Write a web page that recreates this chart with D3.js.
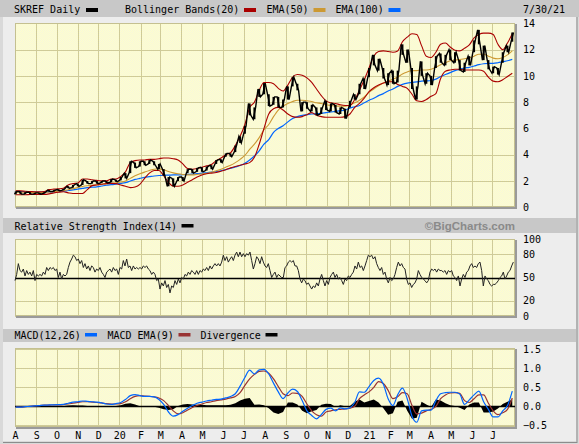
<!DOCTYPE html>
<html><head><meta charset="utf-8">
<script src="https://cdn.jsdelivr.net/npm/d3@7/dist/d3.min.js"></script>
<style>
html,body{margin:0;padding:0;background:#d9d9d9;}
svg{display:block;}
text{font-family:"DejaVu Sans Mono",monospace;font-size:10px;fill:#000;}
</style></head><body>
<svg id="c" width="579" height="444"></svg>
<script>
// ---------- DATA ----------
const symbol = "SKREF Daily";
const endLabel = "7/30/21";
const firstWeek = [2019, 7, 2];   // weekly samples, Fridays
const weekStepDays = 7;
const priceHigh = [1.2,1.2,1.15,1.15,1.1,1.1,1.15,1.3,1.3,1.35,
  1.4,1.6,1.7,1.8,2.1,2.0,2.0,2.0,2.0,2.0,
  2.15,2.1,2.3,2.6,3.5,3.4,3.5,3.5,3.6,3.5,
  3.3,2.9,2.3,2.2,2.3,2.3,2.9,2.9,3.0,3.05,
  3.1,3.2,3.6,3.65,4.1,4.1,4.7,5.4,6.2,7.9,
  7.6,9.0,9.45,8.6,8.4,8.4,8.2,9.2,9.9,9.4,
  8.0,8.0,7.8,7.6,7.6,8.1,7.9,7.8,7.6,7.5,
  8.1,8.6,9.4,9.8,10.6,11.6,11.3,10.6,10.2,10.4,
  10.4,12.4,12.0,10.6,9.2,11.1,10.2,10.0,11.5,11.7,
  11.6,12.0,11.8,11.2,11.0,11.5,12.7,13.5,12.3,11.2,
  10.7,10.6,11.8,12.3,13.3];
const priceLow = [1.0,1.0,1.0,1.0,1.0,1.0,1.05,1.2,1.2,1.25,
  1.3,1.45,1.5,1.6,1.7,1.8,1.8,1.8,1.85,1.85,
  1.9,1.95,2.05,2.2,2.6,3.0,3.1,3.2,3.3,3.2,
  2.9,2.4,1.6,1.6,2.0,2.0,2.6,2.6,2.7,2.7,
  2.8,2.9,3.3,3.4,3.85,3.85,4.2,4.9,5.6,7.0,
  6.7,8.4,8.6,7.7,7.8,7.6,7.6,8.2,9.2,8.9,
  7.3,7.5,7.3,7.0,7.1,7.4,7.3,7.2,7.1,6.75,
  7.6,8.2,8.6,9.0,9.9,10.8,10.4,9.8,9.3,9.4,
  9.5,11.6,11.0,9.0,8.2,10.0,9.4,9.3,10.6,11.0,
  10.8,11.2,11.0,10.4,10.3,10.8,11.8,12.4,11.2,10.5,
  10.2,10.1,11.0,11.8,12.6];
const bbUpper = [1.25,1.25,1.22,1.2,1.18,1.18,1.2,1.35,1.38,1.4,
  1.45,1.7,1.8,1.85,2.15,2.15,2.1,2.05,2.02,2.02,
  2.15,2.15,2.35,2.7,3.4,3.55,3.6,3.6,3.65,3.65,
  3.7,3.75,3.75,3.7,3.6,3.3,2.95,2.9,2.95,3.05,
  3.15,3.25,3.55,3.75,4.0,4.15,4.7,5.4,6.3,7.6,
  8.0,8.9,9.5,9.5,9.4,9.05,8.85,9.3,9.9,10.1,
  10.05,9.85,9.5,9.0,8.5,8.1,7.95,7.9,7.8,7.75,
  7.75,8.2,8.9,9.7,10.6,11.5,11.85,11.9,11.85,11.8,
  11.9,12.6,12.95,13.2,13.15,12.3,11.5,11.4,11.8,12.4,
  12.5,12.2,11.95,11.9,12.1,12.35,12.9,13.15,13.25,13.25,
  13.15,12.4,12.0,12.5,13.2];
const bbLower = [0.95,0.95,0.95,0.97,0.98,0.98,0.98,1.02,1.1,1.15,
  1.18,1.1,1.05,1.05,1.05,1.35,1.65,1.7,1.75,1.8,
  1.82,1.8,1.7,1.6,1.5,1.55,1.75,2.2,2.6,2.8,
  2.8,2.4,1.9,1.6,1.6,1.7,1.9,2.1,2.3,2.45,
  2.55,2.6,2.65,2.75,2.85,3.0,3.1,3.2,3.3,3.4,
  3.8,4.8,6.0,7.1,7.5,7.6,7.4,7.1,6.9,6.85,
  6.9,7.05,7.2,7.0,6.9,6.85,6.85,6.85,6.85,6.9,
  7.1,7.6,7.9,8.3,8.8,9.1,9.3,9.45,9.55,9.55,
  9.35,9.2,9.05,8.6,8.1,8.05,8.2,8.45,8.65,9.8,
  10.35,10.45,10.5,10.5,10.45,10.45,10.45,10.45,10.35,9.9,
  9.6,9.55,9.7,9.95,10.2];
const ema50 = [1.15,1.15,1.14,1.13,1.12,1.12,1.13,1.16,1.2,1.22,
  1.26,1.34,1.42,1.5,1.58,1.64,1.68,1.72,1.76,1.8,
  1.83,1.86,1.92,2.0,2.2,2.4,2.55,2.68,2.8,2.9,
  2.92,2.85,2.72,2.62,2.55,2.5,2.47,2.47,2.5,2.53,
  2.58,2.66,2.78,2.9,3.05,3.2,3.4,3.65,3.95,4.4,
  4.8,5.3,5.9,6.3,6.9,7.4,7.7,7.9,8.05,8.15,
  8.15,8.1,8.05,7.95,7.9,7.8,7.75,7.7,7.7,7.7,
  7.8,7.95,8.15,8.4,8.75,9.0,9.25,9.45,9.6,9.75,
  9.9,10.15,10.3,10.4,10.4,10.45,10.45,10.5,10.65,10.85,
  11.0,11.15,11.2,11.25,11.3,11.38,11.5,11.65,11.65,11.5,
  11.35,11.3,11.4,11.6,11.9];
const ema100 = [1.2,1.2,1.18,1.17,1.16,1.16,1.17,1.18,1.19,1.2,
  1.22,1.28,1.33,1.38,1.44,1.5,1.53,1.56,1.62,1.68,
  1.72,1.76,1.82,1.88,2.0,2.12,2.2,2.28,2.33,2.38,
  2.42,2.44,2.45,2.46,2.46,2.48,2.5,2.52,2.56,2.6,
  2.63,2.67,2.72,2.78,2.87,2.97,3.07,3.18,3.35,3.6,
  3.9,4.3,4.8,5.15,5.7,6.0,6.2,6.5,6.75,6.9,
  7.0,7.05,7.1,7.12,7.15,7.2,7.25,7.3,7.35,7.4,
  7.55,7.65,7.75,7.95,8.15,8.3,8.5,8.65,8.85,9.0,
  9.2,9.35,9.45,9.5,9.55,9.6,9.62,9.65,9.75,9.95,
  10.1,10.25,10.4,10.5,10.6,10.65,10.75,10.85,10.92,10.95,
  10.95,11.0,11.08,11.15,11.25];

const rsiFirstDay = [2019, 7, 1];
const rsiStepDays = 2.4433;
const rsi = [46,54,68,59,57,61,52,59,54,57,52,59,46,54,52,54,52,57,54,63,
  59,63,61,63,59,61,50,57,48,54,52,54,63,70,74,79,77,72,74,68,
  72,63,68,61,65,59,65,63,57,61,59,63,57,54,50,57,59,61,57,63,
  59,61,54,63,61,72,65,74,63,65,59,65,61,63,61,63,61,65,63,65,
  61,59,54,57,54,46,48,35,43,39,46,37,41,30,39,37,46,41,48,43,
  50,48,54,52,57,54,59,57,54,59,54,59,57,61,59,63,59,65,61,65,
  68,65,68,65,70,79,72,77,70,74,77,72,79,83,77,83,77,81,77,81,
  79,83,72,61,68,77,74,68,77,70,
  65,63,68,59,50,54,57,50,54,52,50,50,63,65,70,72,70,72,65,65,
  59,48,43,48,46,41,43,39,35,39,37,43,39,48,54,46,39,46,41,50,
  54,57,50,54,48,50,46,41,48,46,52,50,54,57,65,61,70,63,65,59,
  65,72,79,77,79,74,77,68,63,59,63,54,57,48,43,50,46,48,54,63,
  70,65,68,63,61,48,41,43,37,41,43,48,59,54,50,48,46,43,46,57,
  61,59,61,57,61,59,59,57,59,54,59,57,59,52,50,46,52,39,48,54,
  50,57,59,65,68,63,65,63,68,70,59,39,52,48,46,41,39,41,41,43,
  46,50,52,57,48,52,57,59,65,70];

const macd = [-0.02,-0.02,-0.01,0,0.01,0.02,0.03,0.035,0.04,0.045,
  0.05,0.08,0.11,0.12,0.14,0.13,0.12,0.11,0.09,0.06,
  0.05,0.07,0.1,0.18,0.28,0.31,0.28,0.26,0.26,0.25,
  0.18,0.05,-0.15,-0.26,-0.22,-0.13,-0.05,0.02,0.08,0.11,
  0.14,0.16,0.18,0.19,0.22,0.26,0.33,0.53,0.76,0.95,
  0.85,0.96,0.97,0.85,0.61,0.38,0.2,0.35,0.45,0.39,
  0.15,-0.12,-0.24,-0.33,-0.22,-0.08,-0.05,-0.12,-0.04,-0.07,
  -0.04,0.1,0.38,0.37,0.52,0.68,0.74,0.58,0.2,0.02,
  0.3,0.48,0.2,-0.26,-0.42,-0.12,-0.1,-0.1,0.15,0.33,
  0.36,0.37,0.37,0.32,0.05,0.17,0.3,0.4,0.12,-0.08,
  -0.28,-0.28,-0.12,0.02,0.4];
const macdSignal = [-0.02,-0.02,-0.01,0,0.01,0.02,0.03,0.03,0.04,0.04,
  0.045,0.06,0.08,0.1,0.12,0.12,0.11,0.1,0.09,0.07,
  0.06,0.06,0.07,0.12,0.2,0.26,0.28,0.27,0.26,0.25,
  0.22,0.15,0.02,-0.12,-0.2,-0.17,-0.1,-0.03,0.02,0.06,
  0.1,0.12,0.15,0.17,0.19,0.22,0.26,0.36,0.55,0.72,
  0.84,0.92,0.93,0.87,0.72,0.52,0.33,0.28,0.35,0.34,
  0.26,0.06,-0.12,-0.22,-0.26,-0.15,-0.12,-0.09,-0.08,-0.07,
  -0.05,0.0,0.2,0.3,0.38,0.5,0.65,0.6,0.42,0.2,
  0.25,0.36,0.33,0.02,-0.2,-0.18,-0.12,-0.08,0.0,0.2,
  0.3,0.35,0.36,0.34,0.15,0.1,0.2,0.3,0.3,0.08,
  -0.12,-0.22,-0.17,-0.08,0.22];
const divergence = [0,0,0,0,0,0,0,0.005,0,0.005,
  0.01,0.02,0.03,0.02,0.02,0.01,0.01,0,0,-0.01,
  -0.01,0.01,0.03,0.07,0.08,0.05,0,-0.01,0,-0.01,
  -0.04,-0.08,-0.1,-0.08,0.01,0.05,0.06,0.05,0.04,0.04,
  0.03,0.03,0.03,0.03,0.03,0.04,0.08,0.15,0.2,0.22,
  0.04,0.05,0.03,-0.05,-0.16,-0.2,-0.15,0.1,0.1,0.05,
  -0.12,-0.18,-0.13,-0.1,0.04,0.07,0.06,-0.02,0.03,0,
  0.01,0.12,0.18,0.1,0.14,0.18,0.1,-0.05,-0.22,-0.18,
  0.12,0.15,-0.12,-0.33,-0.3,0.12,0.05,-0.02,0.18,0.15,
  0.08,0.03,0.01,-0.04,-0.1,0.05,0.1,0.1,-0.16,-0.16,
  -0.14,-0.06,0.06,0.12,0.18];

const monthLabels = ["A","S","O","N","D","20","F","M","A","M","J","J",
                     "A","S","O","N","D","21","F","M","A","M","J","J"];
const priceTicks = [0,2,4,6,8,10,12,14];
const rsiTicks = [0,20,50,80,100];
const macdTicks = [-0.5,0.0,0.5,1.0,1.5];

// ---------- DRAWING ----------
const svg = d3.select("#c");
const C = {bg:"#d9d9d9", panel:"#ededed", head:"#c8c8c8", grid:"#cfcb98",
  red:"#aa0000", gold:"#cc9933", blue:"#0066ff", brown:"#993333"};

const utc = a => new Date(Date.UTC(a[0], a[1], a[2]));
const x = d3.scaleUtc()
  .domain([new Date(Date.UTC(2019,7,1)), new Date(Date.UTC(2021,7,3))])
  .range([15, 515]);
const weeks = priceHigh.map((_, i) => d3.utcDay.offset(utc(firstWeek), weekStepDays * i));
const rsiDates = rsi.map((_, k) => new Date(utc(rsiFirstDay).getTime() + k * rsiStepDays * 864e5));
const months = d3.utcMonth.range(new Date(Date.UTC(2019,7,1)), new Date(Date.UTC(2021,7,2)));

// background
svg.append("rect").attr("width",579).attr("height",444).attr("fill",C.bg);
svg.append("rect").attr("x",3).attr("y",17).attr("width",573).attr("height",424).attr("fill",C.panel);
svg.append("line").attr("x1",577).attr("x2",577).attr("y1",17).attr("y2",443).attr("stroke","#8c8c8c");
svg.append("line").attr("x1",3).attr("x2",577).attr("y1",442.5).attr("y2",442.5).attr("stroke","#8c8c8c");
svg.append("rect").attr("x",0).attr("y",0).attr("width",579).attr("height",17).attr("fill",C.head);
svg.append("rect").attr("x",3).attr("y",218).attr("width",573).attr("height",15).attr("fill",C.head);
svg.append("rect").attr("x",3).attr("y",329).attr("width",573).attr("height",13).attr("fill",C.head);

// dither pattern for plot fill
const defs = svg.append("defs");
const pat = defs.append("pattern").attr("id","dither").attr("width",2).attr("height",2)
  .attr("patternUnits","userSpaceOnUse");
pat.append("rect").attr("width",2).attr("height",2).attr("fill","#ffffcc");
pat.append("rect").attr("width",1).attr("height",1).attr("fill","#f6f6dc");
pat.append("rect").attr("x",1).attr("y",1).attr("width",1).attr("height",1).attr("fill","#f6f6dc");

function panel(top, bottom, y, ticks, fmt, zeroLine) {
  const g = svg.append("g");
  g.append("rect").attr("x",15).attr("y",top).attr("width",500).attr("height",bottom-top)
    .attr("fill","url(#dither)");
  g.selectAll(".vg").data(months).join("line")
    .attr("x1",d=>Math.round(x(d))+0.5).attr("x2",d=>Math.round(x(d))+0.5)
    .attr("y1",top).attr("y2",bottom).attr("stroke",C.grid);
  g.selectAll(".hg").data(ticks.filter(t=>t!==zeroLine)).join("line")
    .attr("x1",15).attr("x2",515).attr("y1",d=>Math.round(y(d))+0.5).attr("y2",d=>Math.round(y(d))+0.5)
    .attr("stroke",C.grid);
  g.append("rect").attr("x",15.5).attr("y",top+0.5).attr("width",499).attr("height",bottom-top-1)
    .attr("fill","none").attr("stroke","#c4c090");
  const ax = d3.axisRight(y).tickValues(ticks).tickFormat(fmt).tickSize(0).tickPadding(8);
  const a = svg.append("g").attr("transform","translate(515,0)").call(ax);
  a.select(".domain").remove();
  a.selectAll("text").attr("fill","#000").style("font-family","DejaVu Sans Mono").style("font-size","10px");
  return g;
}
function shadow(top, bottom) {
  svg.append("line").attr("x1",516).attr("x2",516).attr("y1",top+1).attr("y2",bottom+2)
    .attr("stroke","#9a9a9a").attr("stroke-width",2);
  svg.append("line").attr("x1",16).attr("x2",517).attr("y1",bottom+1).attr("y2",bottom+1)
    .attr("stroke","#9a9a9a").attr("stroke-width",2);
}

// ---- main price panel
const yP = d3.scaleLinear().domain([0,14]).range([207.3, 23.3]);
const gP = panel(23, 207, yP, priceTicks, d3.format("d"), null);
const lineP = arr => d3.line().x((d,i)=>x(weeks[i])).y(d=>yP(d)).curve(d3.curveMonotoneX)(arr);
gP.append("path").attr("d", lineP(ema100)).attr("fill","none").attr("stroke",C.blue).attr("stroke-width",1.2);
gP.append("path").attr("d", lineP(ema50)).attr("fill","none").attr("stroke",C.gold).attr("stroke-width",1.1);
gP.append("path").attr("d", lineP(bbUpper)).attr("fill","none").attr("stroke",C.red).attr("stroke-width",1.1);
gP.append("path").attr("d", lineP(bbLower)).attr("fill","none").attr("stroke",C.red).attr("stroke-width",1.1);
// price: weekly high/low bars joined by a high-low zigzag (daily-bar look)
const zig = [];
priceHigh.forEach((h, i) => {
  const xi = x(weeks[i]), w = 1.2;
  if (i % 2 === 0) { zig.push([xi - w, yP(priceLow[i])]); zig.push([xi + w, yP(h)]); }
  else { zig.push([xi - w, yP(h)]); zig.push([xi + w, yP(priceLow[i])]); }
});
gP.append("path").attr("d", d3.line()(zig)).attr("fill","none").attr("stroke","#000")
  .attr("stroke-width",1.4).attr("stroke-linejoin","miter");
gP.selectAll(".bar").data(priceHigh).join("line")
  .attr("x1",(d,i)=>x(weeks[i])).attr("x2",(d,i)=>x(weeks[i]))
  .attr("y1",d=>yP(d)).attr("y2",(d,i)=>yP(priceLow[i]))
  .attr("stroke","#000").attr("stroke-width",2);
shadow(23, 207);

// ---- RSI panel
const yR = d3.scaleLinear().domain([0,100]).range([316, 239]);
const gR = panel(239, 316, yR, rsiTicks, d3.format("d"), 50);
gR.append("line").attr("x1",15).attr("x2",515).attr("y1",Math.round(yR(50))+0.5).attr("y2",Math.round(yR(50))+0.5)
  .attr("stroke","#000").attr("stroke-width",1.3);
gR.append("path").attr("d", d3.line().x((d,i)=>x(rsiDates[i])).y(d=>yR(d))(rsi))
  .attr("fill","none").attr("stroke","#222").attr("stroke-width",1);
shadow(239, 316);

// ---- MACD panel
const yM = d3.scaleLinear().domain([-0.545, 1.535]).range([427, 348]);
const gM = panel(348, 427, yM, macdTicks, d3.format(".1f"), 0);
gM.append("path").attr("d", d3.area().x((d,i)=>x(weeks[i])).y0(yM(0)).y1(d=>yM(d))(divergence))
  .attr("fill","#000");
gM.append("line").attr("x1",15).attr("x2",515).attr("y1",Math.round(yM(0))+0.5).attr("y2",Math.round(yM(0))+0.5)
  .attr("stroke","#000").attr("stroke-width",1.3);
const lineM = arr => d3.line().x((d,i)=>x(weeks[i])).y(d=>yM(d)).curve(d3.curveMonotoneX)(arr);
gM.append("path").attr("d", lineM(macdSignal)).attr("fill","none").attr("stroke",C.brown).attr("stroke-width",1.2);
gM.append("path").attr("d", lineM(macd)).attr("fill","none").attr("stroke",C.blue).attr("stroke-width",1.2);
shadow(348, 427);

// month labels
svg.selectAll(".ml").data(months).join("text")
  .attr("x",d=>x(d)+0.5).attr("y",438.5).attr("text-anchor","middle")
  .text((d,i)=>monthLabels[i]);

// ---- headers / legends
function legend(items, baseline, swY, swH) {
  items.forEach(it => {
    svg.append("text").attr("x",it.x).attr("y",baseline).text(it.label);
    if (it.color) svg.append("rect").attr("x",it.sx).attr("y",swY).attr("width",12).attr("height",swH).attr("fill",it.color);
  });
}
legend([
  {label:symbol, x:14, sx:86, color:"#000"},
  {label:"Bollinger Bands(20)", x:125, sx:244, color:C.red},
  {label:"EMA(50)", x:266.5, sx:313.5, color:C.gold},
  {label:"EMA(100)", x:335.5, sx:388.5, color:C.blue}
], 13, 8, 4);
svg.append("text").attr("x",523).attr("y",13).text(endLabel);
legend([{label:"Relative Strength Index(14)", x:14.5, sx:181.5, color:"#000"}], 229.5, 224, 3.5);
svg.append("text").attr("x",515).attr("y",230).attr("text-anchor","end")
  .style("font-family","'Liberation Sans',Arial,sans-serif").style("font-size","11.5px").style("font-weight","bold")
  .style("fill","#8a8a8a").text("©BigCharts.com");
legend([
  {label:"MACD(12,26)", x:14.5, sx:85, color:C.blue},
  {label:"MACD EMA(9)", x:107.5, sx:178.5, color:C.brown},
  {label:"Divergence", x:200.5, sx:265.5, color:"#000"}
], 338.5, 333, 3.5);
</script></body></html>
